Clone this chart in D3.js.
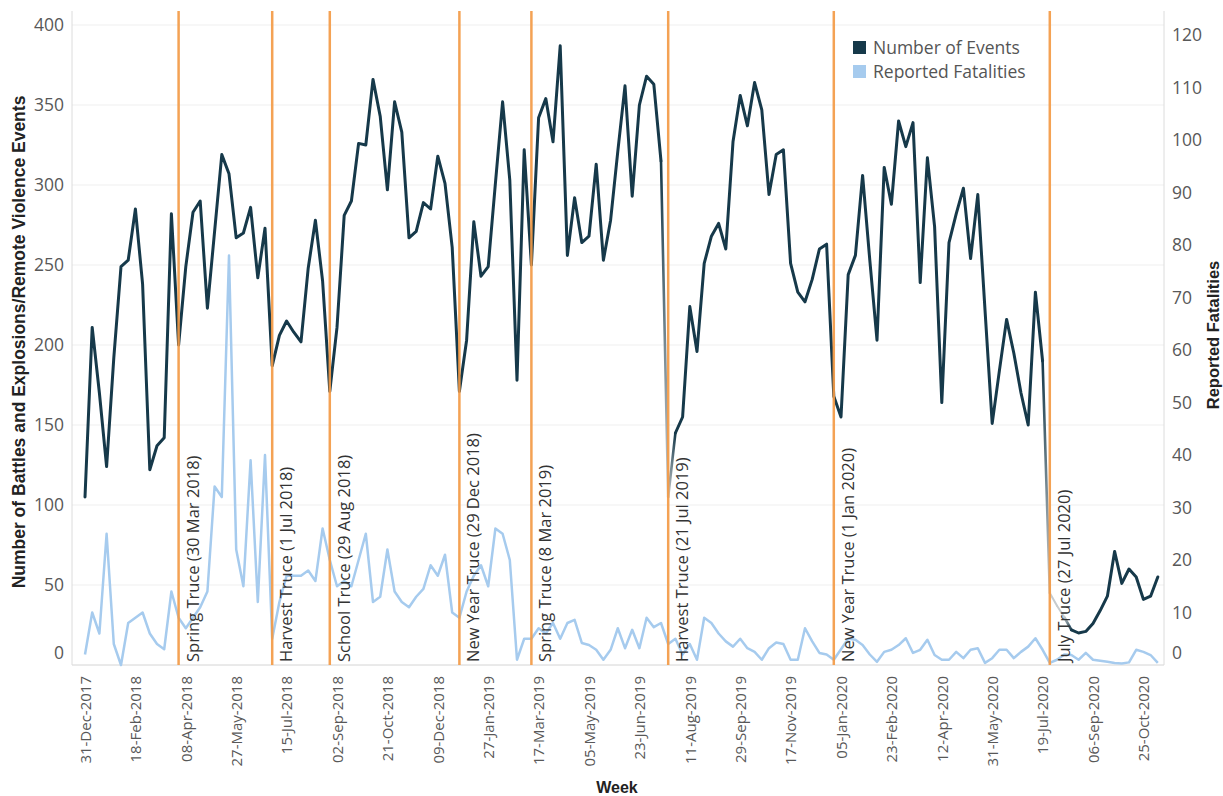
<!DOCTYPE html>
<html><head><meta charset="utf-8">
<script src="https://cdn.jsdelivr.net/npm/d3@7"></script>
<style>
body{margin:0;background:#fff;}
svg{display:block;font-family:"Open Sans",sans-serif;}
</style></head><body>
<svg id="chart" width="1223" height="796"></svg>
<script>
// ---------------- DATA ----------------
const firstWeek = "31-Dec-2017";
const events = [105,211,170,124,192,249,253,285,238,122,137,142,282,200,249,283,290,223,271,319,
307,267,270,286,242,273,187,206,215,208,202,248,278,240,171,211,281,290,326,325,
366,343,297,352,333,267,271,289,285,318,301,261,171,203,277,243,249,301,352,303,
178,322,250,342,354,327,387,256,292,264,268,313,253,278,321,362,293,350,368,363,
315,105,145,155,224,196,251,268,276,260,327,356,337,364,347,294,319,322,251,233,
227,241,260,263,168,155,244,256,306,253,203,311,288,340,324,339,239,317,274,164,
264,282,298,254,294,222,151,184,216,195,170,150,233,190,45,37,30,22,20,21,
26,34,43,71,51,60,55,41,43,55];
const fatalities = [2,10,6,25,4,0,8,9,10,6,4,3,14,9,7,9,11,14,34,32,
78,22,15,39,12,40,5,12,17,17,17,18,16,26,20,15,16,15,20,25,
12,13,22,14,12,11,13,14.5,19,17,21,10,9,14,17,19,15,26,25,20,
1,5,5,7,6,8,5,8,8.6,4.2,3.8,2.9,1,2.9,7,3.2,6.7,3.2,9,7.2,
8,4,5,2,4,1,9,8,6,4.5,3.5,5,3.2,2.5,1,3.2,4.3,4,1,1,
7,4.5,2.3,2,1,3,5,4.8,3.8,2,0.6,2.5,2.9,3.8,5.1,2.3,2.9,4.8,1.9,1,
1,2.5,1.3,2.9,3.2,0.4,1.3,2.9,2.9,1.3,2.5,3.5,5.1,2.9,0.4,1,2,1.9,1,2.3,
1,0.8,0.6,0.4,0.3,0.5,2.9,2.5,1.9,0.4];
const fadedWeeks = ["21-Jul-2019","26-Jul-2020","02-Aug-2020","09-Aug-2020"];
const xTickLabels = ["31-Dec-2017","18-Feb-2018","08-Apr-2018","27-May-2018","15-Jul-2018","02-Sep-2018",
"21-Oct-2018","09-Dec-2018","27-Jan-2019","17-Mar-2019","05-May-2019","23-Jun-2019","11-Aug-2019",
"29-Sep-2019","17-Nov-2019","05-Jan-2020","23-Feb-2020","12-Apr-2020","31-May-2020","19-Jul-2020",
"06-Sep-2020","25-Oct-2020"];
const leftTicks = [0,50,100,150,200,250,300,350,400];
const rightTicks = [0,10,20,30,40,50,60,70,80,90,100,110,120];
const truceLabels = ["Spring Truce (30 Mar 2018)","Harvest Truce (1 Jul 2018)","School Truce (29 Aug 2018)",
"New Year Truce (29 Dec 2018)","Spring Truce (8 Mar 2019)","Harvest Truce (21 Jul 2019)",
"New Year Truce (1 Jan 2020)","July Truce (27 Jul 2020)"];
const truceWeeks = ["01-Apr-2018","01-Jul-2018","26-Aug-2018","30-Dec-2018","10-Mar-2019","21-Jul-2019",
"29-Dec-2019","26-Jul-2020"];
const seriesNames = ["Number of Events","Reported Fatalities"];
const titles = {left:"Number of Battles and Explosions/Remote Violence Events", right:"Reported Fatalities", x:"Week"};

// ---------------- LAYOUT / STYLE ----------------
const plot = {left:72, right:1164, top:11, bottom:665};
const C = {events:"#16394a", fatal:"#a6cbee", faded:"#c6cbce", truce:"#f39a45", grid:"#efefef", axis:"#dcdcdc", tick:"#585858"};
const titleFont = "'Liberation Sans',Arial,sans-serif";

const parse = d3.utcParse("%d-%b-%Y");
const fmt = d3.utcFormat("%d-%b-%Y");
const start = parse(firstWeek);
const weeks = events.map((_, i) => d3.utcWeek.offset(start, i));
const tickDates = xTickLabels.map(parse);
const fadedSet = new Set(fadedWeeks.map(s => +parse(s)));

const x = d3.scaleUtc().domain([tickDates[0], tickDates[tickDates.length-1]]).range([85, 1143.4]);
const yL = d3.scaleLinear().domain([0,400]).range([665,25]);
const yR = d3.scaleLinear().domain([0,120]).range([665,35]);

const svg = d3.select("#chart");

// gridlines
svg.append("g").selectAll("line").data(leftTicks).join("line")
  .attr("x1", plot.left).attr("x2", plot.right)
  .attr("y1", d => yL(d)).attr("y2", d => yL(d))
  .attr("stroke", C.grid).attr("stroke-width", 1);

// axis frame lines
svg.append("line").attr("x1",plot.left).attr("x2",plot.left).attr("y1",plot.top).attr("y2",plot.bottom).attr("stroke",C.axis);
svg.append("line").attr("x1",plot.right).attr("x2",plot.right).attr("y1",plot.top).attr("y2",plot.bottom).attr("stroke",C.axis);
svg.append("line").attr("x1",plot.left).attr("x2",plot.right).attr("y1",plot.bottom).attr("y2",plot.bottom).attr("stroke",C.axis);

// left axis
const gL = svg.append("g").attr("transform",`translate(${plot.left},0)`)
  .call(d3.axisLeft(yL).tickValues(leftTicks).tickSize(0).tickPadding(8));
gL.select(".domain").remove();
gL.selectAll("text").attr("font-size",17.5).attr("fill",C.tick).attr("font-family","Open Sans");
gL.selectAll(".tick").filter(d => d === 0).select("text").attr("dy","-0.38em");

// right axis
const gR = svg.append("g").attr("transform",`translate(${plot.right},0)`)
  .call(d3.axisRight(yR).tickValues(rightTicks).tickSize(0).tickPadding(8));
gR.select(".domain").remove();
gR.selectAll("text").attr("font-size",17.5).attr("fill",C.tick).attr("font-family","Open Sans");
gR.selectAll(".tick").filter(d => d === 0).select("text").attr("dy","-0.38em");

// x axis
const gX = svg.append("g").attr("transform",`translate(0,${plot.bottom})`)
  .call(d3.axisBottom(x).tickValues(tickDates).tickFormat(fmt).tickSize(0).tickPadding(0));
gX.select(".domain").remove();
gX.selectAll("text").attr("transform","rotate(-90)").attr("text-anchor","end")
  .attr("x",-11).attr("y",0).attr("dy","0.35em")
  .attr("font-size",15).attr("fill",C.tick).attr("font-family","Open Sans");

// fatalities line
svg.append("path").datum(fatalities)
  .attr("fill","none").attr("stroke",C.fatal).attr("stroke-width",2.5)
  .attr("stroke-linejoin","round")
  .attr("d", d3.line().x((d,i) => x(weeks[i])).y(d => yR(d)));

// events line (dark where normal, gradient to grey around faded weeks)
const isFaded = i => fadedSet.has(+weeks[i]);
svg.append("path").datum(events)
  .attr("fill","none").attr("stroke",C.events).attr("stroke-width",3)
  .attr("stroke-linejoin","round").attr("stroke-linecap","round")
  .attr("d", d3.line().defined((d,i) => !isFaded(i)).x((d,i) => x(weeks[i])).y(d => yL(d)));
const defs = svg.append("defs");
const segs = [];
for (let i = 0; i < events.length - 1; i++) {
  if (isFaded(i) || isFaded(i+1)) segs.push(i);
}
segs.forEach((i, k) => {
  const x1 = x(weeks[i]), y1 = yL(events[i]), x2 = x(weeks[i+1]), y2 = yL(events[i+1]);
  const g = defs.append("linearGradient").attr("id","fg"+k).attr("gradientUnits","userSpaceOnUse")
    .attr("x1",x1).attr("y1",y1).attr("x2",x2).attr("y2",y2);
  g.append("stop").attr("offset","0%").attr("stop-color", isFaded(i) ? C.faded : C.events);
  g.append("stop").attr("offset","100%").attr("stop-color", isFaded(i+1) ? C.faded : C.events);
  svg.append("line").attr("x1",x1).attr("y1",y1).attr("x2",x2).attr("y2",y2)
    .attr("stroke",`url(#fg${k})`).attr("stroke-width",isFaded(i)&&isFaded(i+1)?2:2.6).attr("stroke-linecap","round");
});

// truce lines and labels
const truceDates = truceWeeks.map(parse);
svg.append("g").selectAll("line").data(truceDates).join("line")
  .attr("x1", d => x(d)).attr("x2", d => x(d))
  .attr("y1", plot.top).attr("y2", plot.bottom)
  .attr("stroke", C.truce).attr("stroke-width", 2.5).attr("stroke-opacity", 0.92);
svg.append("g").selectAll("text").data(truceDates).join("text")
  .attr("transform", d => `translate(${x(d)+20},662) rotate(-90)`)
  .attr("text-anchor","start").attr("font-size",16.5).attr("fill","#333")
  .text((d,i) => truceLabels[i]);

// legend
const leg = svg.append("g").attr("transform","translate(853,41)");
[C.events, C.fatal].forEach((c, i) => {
  leg.append("rect").attr("x",0).attr("y",i*24).attr("width",13).attr("height",13).attr("fill",c);
  leg.append("text").attr("x",20).attr("y",i*24+6.5).attr("dy","0.35em")
    .attr("font-size",17.5).attr("fill","#555").text(seriesNames[i]);
});

// axis titles
svg.append("text").attr("transform","translate(25,342) rotate(-90)")
  .attr("text-anchor","middle").attr("font-family",titleFont)
  .attr("font-weight","bold").attr("font-size",17.5).attr("fill","#222").text(titles.left);
svg.append("text").attr("transform","translate(1219,335) rotate(-90)")
  .attr("text-anchor","middle").attr("font-family",titleFont)
  .attr("font-weight","bold").attr("font-size",16.5).attr("fill","#222").text(titles.right);
svg.append("text").attr("x",617).attr("y",793)
  .attr("text-anchor","middle").attr("font-family",titleFont)
  .attr("font-weight","bold").attr("font-size",16).attr("fill","#222").text(titles.x);
</script>
</body></html>
